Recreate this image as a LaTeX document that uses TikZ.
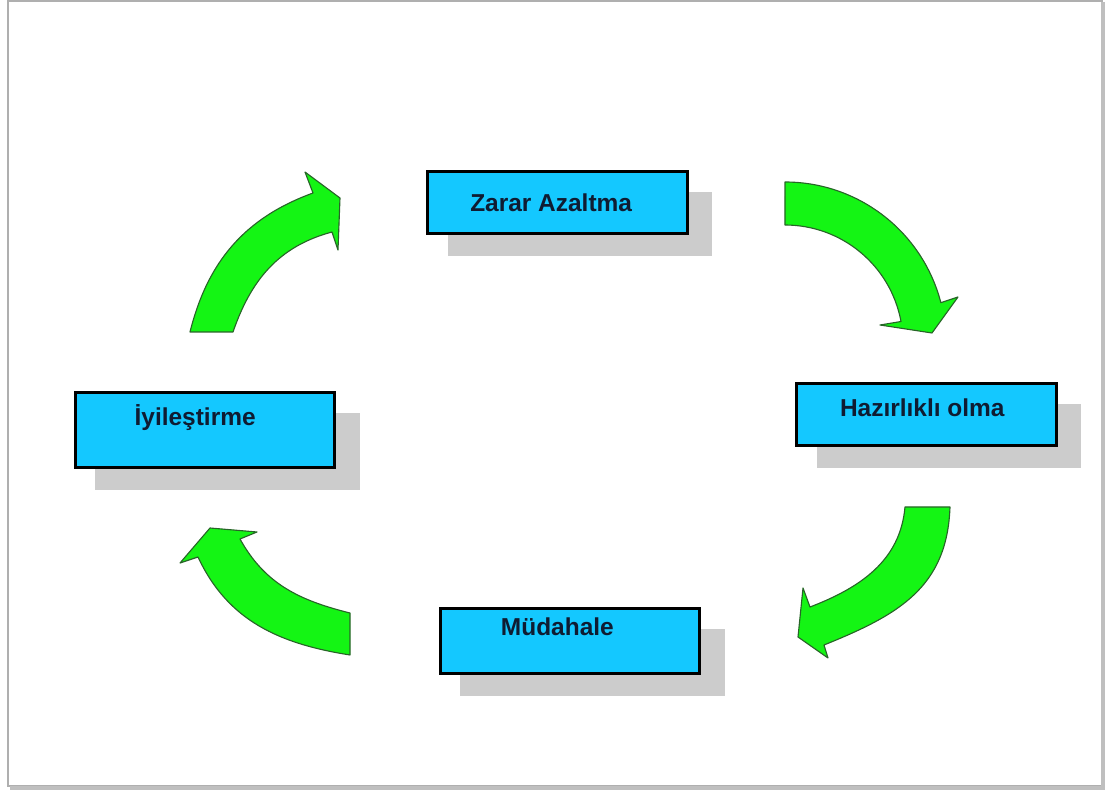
\documentclass[tikz,border=0pt]{standalone}
\usepackage{fontspec}
\setmainfont{Liberation Sans}
\usepackage{xcolor}
\usepackage{tikz}
\usetikzlibrary{shadows}
\definecolor{cyclecyan}{RGB}{20, 200, 255}
\definecolor{cycleshade}{RGB}{204, 204, 204}
\definecolor{cyclegreen}{RGB}{20, 245, 20}
\definecolor{cycleedge}{RGB}{40, 100, 40}
\definecolor{cycletext}{RGB}{15, 28, 50}
\definecolor{framegray}{RGB}{175, 175, 175}

\tikzset{
    phasebox/.style={rectangle, draw=black, fill=cyclecyan, line width=2.1pt, minimum width=6.48cm, minimum height=1.55cm, text height=12.5pt, text depth=0pt, font=\fontsize{17.4}{20}\selectfont\bfseries, text=cycletext, drop shadow={shadow xshift=0.55cm, shadow yshift=-0.525cm, shadow scale=1.02, fill=cycleshade, opacity=1}},
    cyclearrow/.style={fill=cyclegreen, draw=cycleedge, line width=0.8pt, line join=round}
}

\begin{document}
\begin{tikzpicture}[x=0.025cm, y=0.025cm]
    \useasboundingbox (0,0) rectangle (1107,791);
    % frame
    \draw[framegray, line width=1.2pt] (8,790) rectangle (1102,5);
    \draw[framegray!80, line width=2.4pt] (1103,789) -- (1103,3) -- (10,3);

    % the four phases
    \node[phasebox] (zarar) at (557.5,588.5) {Zarar Azaltma\kern9pt};
    \node[phasebox, text depth=9.2pt] (hazir) at (926.5,376.5) {Hazırlıklı olma\kern6pt};
    \node[phasebox, minimum height=1.875cm, text depth=18.5pt] (iyi) at (205,361) {İyileştirme\kern14pt};
    \node[phasebox, minimum height=1.625cm, text depth=19.9pt] (mudahale) at (570,150) {Müdahale\kern18pt};

    % curved arrows, clockwise
    \draw[cyclearrow] (190,459) to[out=76,in=200] (313,598) -- (305,619) -- (340,593) -- (338,541) -- (332,559) to[out=195,in=71] (233,459) -- cycle;
    \draw[cyclearrow] (785,609) arc[start angle=90, end angle=14.5, radius=161] -- (958,494) -- (932,458) -- (880,466) -- (901,469.5) arc[start angle=10.5, end angle=90, radius=118] -- cycle;
    \draw[cyclearrow] (950,284) to[out=268,in=22,looseness=1.1] (824,146) -- (828,133) -- (798,154) -- (803,203) -- (810,184) to[out=21,in=265] (905,284) -- cycle;
    \draw[cyclearrow] (350,136) to[out=171,in=-65] (198,234) -- (180,228) -- (210,263) -- (257,259) -- (240,252) to[out=-61,in=166] (350,178) -- cycle;
\end{tikzpicture}
\end{document}
